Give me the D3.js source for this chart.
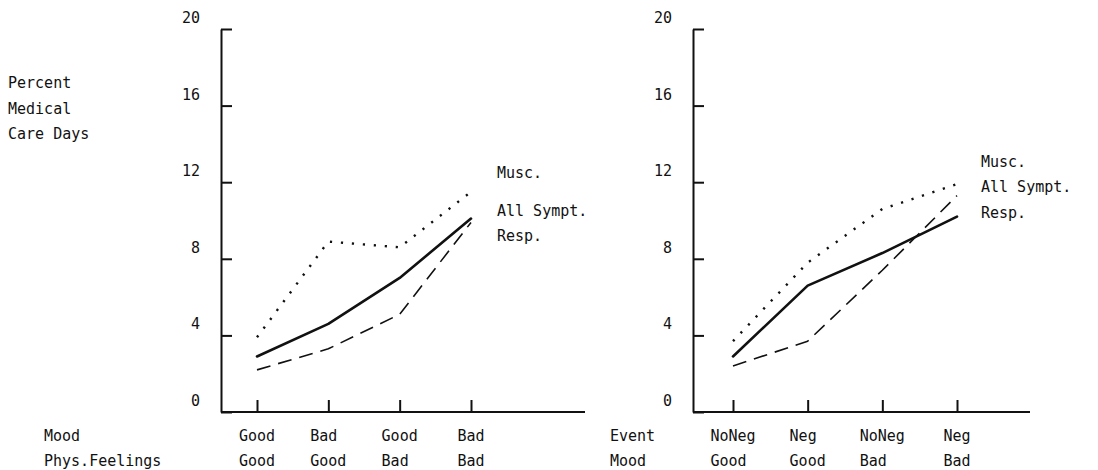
<!DOCTYPE html>
<html>
<head>
<meta charset="utf-8">
<script src="https://cdn.jsdelivr.net/npm/d3@7"></script>
<style>
  body { margin: 0; background: #fff; }
  svg text { font-family: "DejaVu Sans Mono", "Liberation Mono", monospace; font-size: 15px; fill: #111; }
</style>
</head>
<body>
<svg id="chart" width="1098" height="470"></svg>
<script>
// values (percent medical care days)
var yTicks = [0, 4, 8, 12, 16, 20];
var seriesNames = ["Musc.", "All Sympt.", "Resp."];

var leftRow1 = ["Good", "Bad", "Good", "Bad"];
var leftRow2 = ["Good", "Good", "Bad", "Bad"];
var leftMusc = [3.9, 8.9, 8.6, 11.5];
var leftAll = [2.9, 4.6, 7.0, 10.1];
var leftResp = [2.2, 3.3, 5.1, 9.9];

var rightRow1 = ["NoNeg", "Neg", "NoNeg", "Neg"];
var rightRow2 = ["Good", "Good", "Bad", "Bad"];
var rightMusc = [3.7, 7.8, 10.6, 11.9];
var rightAll = [2.9, 6.6, 8.3, 10.2];
var rightResp = [2.4, 3.7, 7.4, 11.3];

var svg = d3.select("#chart");
var charW = 9.03;

var styles = {
    "Musc.": { width: 2.4, dash: "2.2,8.8", cap: "butt" },
    "All Sympt.": { width: 2.6, dash: null, cap: "round" },
    "Resp.": { width: 1.6, dash: "14,8", cap: "butt" }
};

function panel(p) {
    var g = svg.append("g");

    var y = d3.scaleLinear().domain([0, 20]).range([412, 29]);
    var x = d3.scalePoint()
        .domain(d3.range(p.row1.length))
        .range(p.xRange);

    // y axis, ticks pointing inward
    var ya = g.append("g")
        .attr("transform", "translate(" + p.axisX + ",0)")
        .call(d3.axisRight(y).tickValues(yTicks).tickSizeInner(11).tickSizeOuter(0));
    ya.select(".domain").attr("stroke-width", 2).attr("stroke", "#111");
    ya.selectAll(".tick line").attr("stroke-width", 2).attr("stroke", "#111");
    ya.selectAll(".tick text")
        .attr("x", -21).attr("dy", "-6.5")
        .attr("text-anchor", "end")
        .style("font-size", "15px")
        .style("font-family", "DejaVu Sans Mono, monospace");

    // x axis baseline
    g.append("line")
        .attr("x1", p.axisX).attr("x2", p.axisEnd)
        .attr("y1", y(0)).attr("y2", y(0))
        .attr("stroke", "#111").attr("stroke-width", 2);

    var xa = g.append("g")
        .attr("transform", "translate(0," + y(0) + ")")
        .call(d3.axisTop(x).tickSizeInner(12).tickSizeOuter(0).tickFormat(""));
    xa.select(".domain").remove();
    xa.selectAll(".tick line").attr("stroke-width", 2).attr("stroke", "#111");

    // category labels, each column left aligned
    p.row1.forEach(function(c, i) {
        var len = Math.max(c.length, p.row2[i].length);
        var sx = x(i) - len * charW / 2;
        g.append("text").attr("x", sx).attr("y", 441).text(c);
        g.append("text").attr("x", sx).attr("y", 466).text(p.row2[i]);
    });

    g.append("text").attr("x", p.rowLabelX).attr("y", 441).text(p.rowNames[0]);
    g.append("text").attr("x", p.rowLabelX).attr("y", 466).text(p.rowNames[1]);

    var line = d3.line()
        .x(function(d, i) { return x(i); })
        .y(function(d) { return y(d); });

    p.series.forEach(function(s, k) {
        var st = styles[seriesNames[k]];
        g.append("path")
            .datum(s)
            .attr("d", line)
            .attr("fill", "none")
            .attr("stroke", "#111")
            .attr("stroke-width", st.width)
            .attr("stroke-linecap", st.cap)
            .attr("stroke-linejoin", "round")
            .attr("stroke-dasharray", st.dash);
    });

    seriesNames.forEach(function(n, k) {
        g.append("text")
            .attr("x", p.legendX)
            .attr("y", p.legendY[k])
            .text(n);
    });
}

panel({
    axisX: 221, axisEnd: 585, xRange: [257, 471],
    row1: leftRow1, row2: leftRow2,
    rowNames: ["Mood", "Phys.Feelings"], rowLabelX: 44,
    series: [leftMusc, leftAll, leftResp],
    legendX: 497, legendY: [178, 216, 241]
});

panel({
    axisX: 693, axisEnd: 1030, xRange: [733, 957],
    row1: rightRow1, row2: rightRow2,
    rowNames: ["Event", "Mood"], rowLabelX: 610,
    series: [rightMusc, rightAll, rightResp],
    legendX: 981, legendY: [167, 192, 218]
});

// y axis title
["Percent", "Medical", "Care Days"].forEach(function(t, i) {
    svg.append("text").attr("x", 8).attr("y", 88 + i * 25.5).text(t);
});
</script>
</body>
</html>
